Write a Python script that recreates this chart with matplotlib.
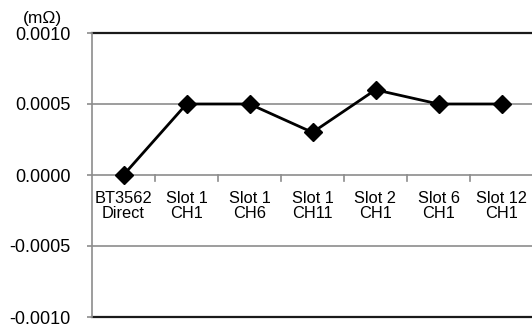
import matplotlib
matplotlib.use("Agg")
import matplotlib.pyplot as plt
import numpy as np

plt.rcParams['font.family'] = ['Liberation Sans', 'DejaVu Sans']

categories = ["BT3562\nDirect", "Slot 1\nCH1", "Slot 1\nCH6", "Slot 1\nCH11",
              "Slot 2\nCH1", "Slot 6\nCH1", "Slot 12\nCH1"]
values = [0.0000, 0.0005, 0.0005, 0.0003, 0.0006, 0.0005, 0.0005]
y_ticks = [-0.0010, -0.0005, 0.0000, 0.0005, 0.0010]
y_unit = "(mΩ)"

W, H = 532, 331
fig = plt.figure(figsize=(W / 100, H / 100), dpi=100)
left, right, top, bottom = 92, 533, 33, 317
ax = fig.add_axes([left / W, (H - bottom) / H, (right - left) / W, (bottom - top) / H])

x = np.arange(len(categories))
ax.set_xlim(-0.5, len(categories) - 0.5)
ax.set_ylim(y_ticks[0], y_ticks[-1])

grid_c = "#8c8c8c"
for yv in y_ticks[1:-1]:
    ax.axhline(yv, color=grid_c, lw=1.2, zorder=1)
for yv in (y_ticks[0], y_ticks[-1]):
    ax.axhline(yv, color="#1a1a1a", lw=1.6, zorder=1, clip_on=False)

ax.plot(x, values, color="black", lw=2, marker="D", markersize=9.5,
        zorder=3, clip_on=False)

for s in ("top", "right", "bottom"):
    ax.spines[s].set_visible(False)
ax.spines["left"].set_color(grid_c)
ax.spines["left"].set_linewidth(1.2)

ax.set_yticks(y_ticks)
ax.set_yticklabels([f"{v:.4f}" for v in y_ticks], fontsize=13)
ax.tick_params(axis="y", length=3.6, color=grid_c, width=1.2, pad=12)

# category labels sit just under the zero line; boundary ticks hang from it
ax.set_xticks([])
for xi, lab in zip(x, categories):
    ax.text(xi, -0.00011, lab, ha="center", va="top", fontsize=11.8,
            linespacing=1.0)
for b in np.arange(0.5, len(categories) - 0.5, 1.0):
    ax.plot([b, b], [0, -0.00004], color=grid_c, lw=1.2, zorder=1)

fig.text(42 / W, 1 - 18 / H, y_unit, ha="center", va="center", fontsize=12.5)

fig.savefig("out.png", dpi=100)
